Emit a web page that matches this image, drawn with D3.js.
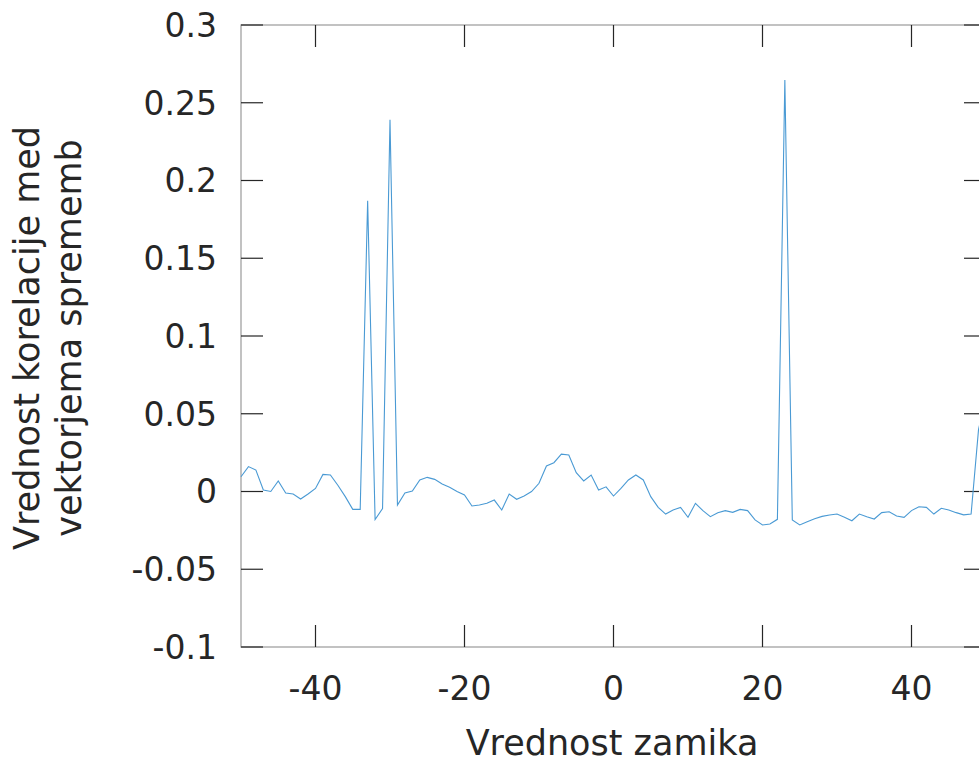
<!DOCTYPE html>
<html>
<head>
<meta charset="utf-8">
<script src="https://cdn.jsdelivr.net/npm/d3@7"></script>
<style>
  body { margin: 0; background: #fff; }
  text { font-family: "DejaVu Sans", sans-serif; fill: #262626; }
</style>
</head>
<body>
<div id="chart"></div>
<script>
// lag values (x) and correlation values (y)
const lags = d3.range(-50, 51);
const corr = [
  0.0095, 0.0160, 0.0138, 0.0010, 0.0000, 0.0068, -0.0010, -0.0016, -0.0048, -0.0016,
  0.0020, 0.0110, 0.0106, 0.0040, -0.0033, -0.0115, -0.0115, 0.1870, -0.0180, -0.0110,
  0.2390, -0.0087, -0.0010, 0.0003, 0.0074, 0.0091, 0.0078, 0.0048, 0.0027, 0.0000,
  -0.0022, -0.0093, -0.0087, -0.0076, -0.0055, -0.0119, -0.0016, -0.0050, -0.0029, 0.0000,
  0.0053, 0.0164, 0.0185, 0.0240, 0.0235, 0.0121, 0.0068, 0.0106, 0.0010, 0.0030,
  -0.0029, 0.0020, 0.0074, 0.0106, 0.0074, -0.0033, -0.0102, -0.0145, -0.0119, -0.0102,
  -0.0166, -0.0076, -0.0123, -0.0162, -0.0136, -0.0123, -0.0134, -0.0115, -0.0123, -0.0183,
  -0.0215, -0.0209, -0.0179, 0.2646, -0.0183, -0.0215, -0.0194, -0.0175, -0.0160, -0.0151,
  -0.0145, -0.0166, -0.0188, -0.0145, -0.0162, -0.0177, -0.0136, -0.0130, -0.0158, -0.0166,
  -0.0123, -0.0098, -0.0102, -0.0145, -0.0108, -0.0119, -0.0136, -0.0150, -0.0145, 0.0400,
  0.0600
];
const xTicks = [-40, -20, 0, 20, 40];
const yTicks = [-0.1, -0.05, 0, 0.05, 0.1, 0.15, 0.2, 0.25, 0.3];
const yTickLabels = ["-0.1", "-0.05", "0", "0.05", "0.1", "0.15", "0.2", "0.25", "0.3"];

const xLabel = "Vrednost zamika";
const yLabel = ["Vrednost korelacije med", "vektorjema sprememb"];

const width = 979;
const height = 762;
const margin = { top: 25, right: -7, bottom: 115, left: 241 };
const tickLen = 22;

const x = d3.scaleLinear().domain([-50, 50]).range([margin.left, width - margin.right]);
const y = d3.scaleLinear().domain([-0.1, 0.3]).range([height - margin.bottom, margin.top]);

const svg = d3.select("#chart").append("svg")
    .attr("width", width)
    .attr("height", height);

// Plot frame.
svg.append("rect")
    .attr("x", x(-50)).attr("y", y(0.3))
    .attr("width", x(50) - x(-50)).attr("height", y(-0.1) - y(0.3))
    .attr("fill", "none").attr("stroke", "#9a9a9a").attr("stroke-width", 1.2);

// Tick marks (inward, mirrored on all sides).
const ticks = svg.append("g").attr("stroke", "#262626").attr("stroke-width", 1.2);
xTicks.forEach(v => {
    ticks.append("line").attr("x1", x(v)).attr("x2", x(v))
        .attr("y1", y(-0.1)).attr("y2", y(-0.1) - tickLen);
    ticks.append("line").attr("x1", x(v)).attr("x2", x(v))
        .attr("y1", y(0.3)).attr("y2", y(0.3) + tickLen);
});
yTicks.forEach(v => {
    ticks.append("line").attr("x1", x(-50)).attr("x2", x(-50) + tickLen)
        .attr("y1", y(v)).attr("y2", y(v));
    ticks.append("line").attr("x1", x(50)).attr("x2", x(50) - tickLen)
        .attr("y1", y(v)).attr("y2", y(v));
});

// Tick labels.
svg.append("g").selectAll("text")
    .data(xTicks)
    .join("text")
        .attr("x", d => x(d))
        .attr("y", y(-0.1) + 53)
        .attr("text-anchor", "middle")
        .attr("font-size", 33)
        .text(d => String(d));

svg.append("g").selectAll("text")
    .data(yTicks)
    .join("text")
        .attr("x", x(-50) - 24)
        .attr("y", d => y(d))
        .attr("dy", "0.36em")
        .attr("text-anchor", "end")
        .attr("font-size", 33)
        .text((d, i) => yTickLabels[i]);

// Axis titles.
svg.append("text")
    .attr("x", 612)
    .attr("y", 755)
    .attr("text-anchor", "middle")
    .attr("font-size", 35)
    .text(xLabel);

svg.append("g")
    .attr("transform", "translate(0,338) rotate(-90)")
    .selectAll("text")
    .data(yLabel)
    .join("text")
        .attr("x", 0)
        .attr("y", (d, i) => 39 + i * 42)
        .attr("text-anchor", "middle")
        .attr("font-size", 35)
        .text(d => d);

// Data line.
const line = d3.line()
    .x((d, i) => x(lags[i]))
    .y(d => y(d));

svg.append("path")
    .datum(corr)
    .attr("fill", "none")
    .attr("stroke", "#4a9ad4")
    .attr("stroke-width", 1.1)
    .attr("d", line);
</script>
</body>
</html>
